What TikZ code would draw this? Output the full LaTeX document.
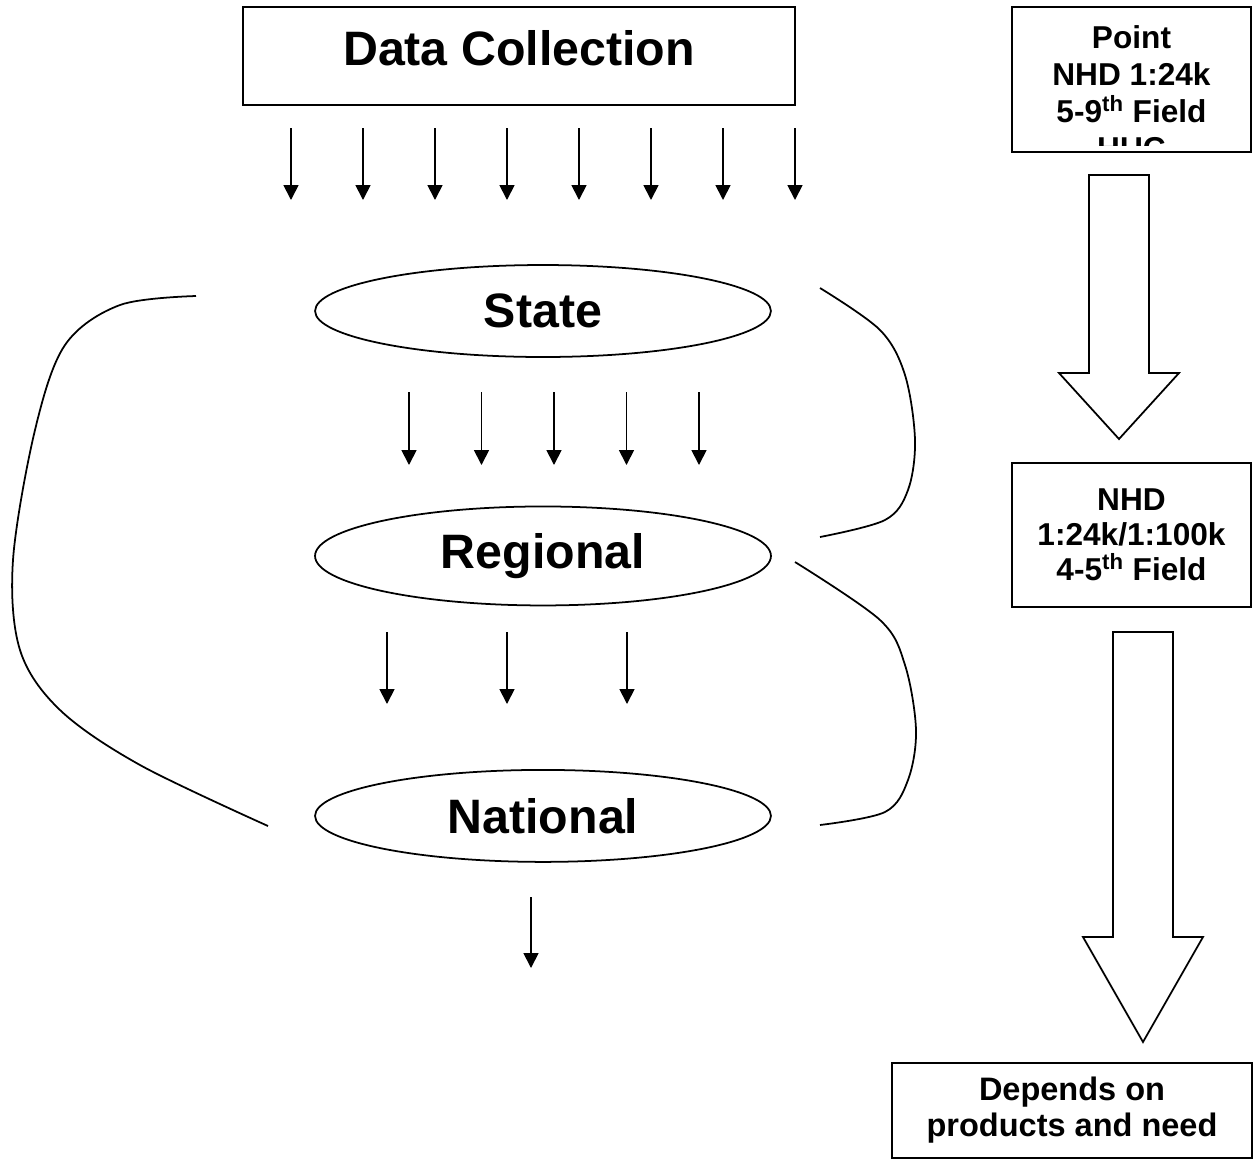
\documentclass[tikz,border=0pt]{standalone}
\usepackage{fontspec}
\setmainfont{Liberation Sans}
\usetikzlibrary{arrows.meta}
\usetikzlibrary{shapes.geometric}

\begin{document}
\begin{tikzpicture}[x = 0.02cm, y = -0.02cm]
\tikzset{
   >={Triangle[length = 0.3cm, width = 0.3cm]},
   box/.style = {rectangle, draw, line width = 1pt, inner sep = 0pt, align = center},
   level/.style = {ellipse, draw, line width = 1pt, inner sep = 0pt, minimum width = 9.12cm, minimum height = 1.84cm, font = \fontsize{27.5}{30}\selectfont\bfseries},
   note/.style = {align = center, font = \fontsize{18}{21}\selectfont\bfseries},
   flow/.style = {->, line width = 1pt},
   fat/.style = {draw, line width = 1pt, line join = miter},
   bracket/.style = {line width = 1pt}
}
\useasboundingbox (0,0) rectangle (1259,1161);

  % left column
  \node [box, minimum width = 11.04cm, minimum height = 1.96cm, text depth = 0.32cm, font = \fontsize{27.5}{30}\selectfont\bfseries] (collect) at (519,56) {Data Collection};

  \node [level] (state) at (543,311) {State};
  \node [level, minimum height = 1.98cm] (regional) [below of = state, node distance = 4.9cm] {Regional};
  \node [level] (national) [below of = regional, node distance = 5.2cm] {National};

  \foreach \i in {0,...,7} {
    \coordinate (c\i a) at (291+72*\i, 128);
    \coordinate (c\i b) at (291+72*\i, 200);
    \draw [flow] (c\i a) -- (c\i b);
  }
  \foreach \i in {0,...,4} {
    \coordinate (s\i a) at (409+72.5*\i, 392);
    \coordinate (s\i b) at (409+72.5*\i, 465);
    \draw [flow] (s\i a) -- (s\i b);
  }
  \foreach \i in {0,...,2} {
    \coordinate (r\i a) at (387+120*\i, 632);
    \coordinate (r\i b) at (387+120*\i, 704);
    \draw [flow] (r\i a) -- (r\i b);
  }
  \coordinate (n a) at (531,897);
  \coordinate (n b) at (531,968);
  \draw [flow] (n a) -- (n b);

  % brackets
  \draw [bracket] plot [smooth, tension = 0.55] coordinates {(196,296) (120,305) (65,345) (35,430) (13,560) (20,650) (60,710) (140,765) (268,826)};
  \draw [bracket] plot [smooth, tension = 0.55] coordinates {(820,288) (880,330) (905,375) (915,440) (908,490) (885,520) (820,537)};
  \draw [bracket] plot [smooth, tension = 0.55] coordinates {(795,562) (880,620) (905,665) (916,730) (908,780) (885,812) (820,825)};

  % right column
  \node [box, minimum width = 4.78cm, minimum height = 2.9cm] (pointbox) at (1131.5,79.5) {};
  \begin{scope}
    \clip (pointbox.north west) rectangle ([yshift = 0.15cm]pointbox.south east);
    \node [note] (pointtext) at (1131.5,93) {Point\\NHD 1:24k\\5-9\textsuperscript{th} Field\\HUC};
  \end{scope}

  \node [box, note, minimum width = 4.78cm, minimum height = 2.88cm, font = \fontsize{18}{20}\selectfont\bfseries] (nhd) at (1131.5,535) {NHD\\1:24k/1:100k\\4-5\textsuperscript{th} Field};

  \node [box, note, minimum width = 7.2cm, minimum height = 1.9cm, font = \fontsize{18.5}{20.5}\selectfont\bfseries] (need) at (1072,1110.5) {Depends on\\products and need};

  \draw [fat] (1089,175) -- (1149,175) -- (1149,373) -- (1179,373) -- (1119,439) -- (1059,373) -- (1089,373) -- cycle;
  \draw [fat] (1113,632) -- (1173,632) -- (1173,937) -- (1203,937) -- (1143,1042) -- (1083,937) -- (1113,937) -- cycle;

\end{tikzpicture}
\end{document}
